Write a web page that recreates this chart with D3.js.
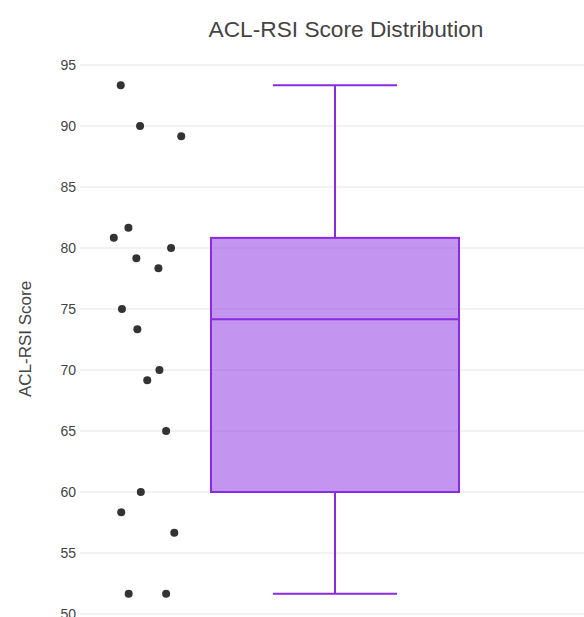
<!DOCTYPE html>
<html>
<head>
<meta charset="utf-8">
<script src="https://cdn.jsdelivr.net/npm/d3@7"></script>
<style>
    body { margin: 0; background: #fff; }
    text { font-family: "Liberation Sans", Arial, sans-serif; fill: #444; }
</style>
</head>
<body>
<div id="chart"></div>
<script>
// Data
const scores = [93.33, 90.0, 89.17, 81.67, 80.83, 80.0, 79.17, 78.33, 75.0, 73.33,
                70.0, 69.17, 65.0, 60.0, 58.33, 56.67, 51.67, 51.67];
// horizontal jitter of each point (box units, box centre = 0)
const jitter = [-0.864, -0.786, -0.620, -0.833, -0.892, -0.661, -0.801, -0.712, -0.859, -0.797,
                -0.708, -0.757, -0.681, -0.783, -0.862, -0.648, -0.832, -0.681];
const yTicks = [50, 55, 60, 65, 70, 75, 80, 85, 90, 95];

const width = 584, height = 617;
const margin = { top: 65, left: 80 };

const svg = d3.select("#chart")
    .append("svg")
    .attr("width", width)
    .attr("height", height);

const y = d3.scaleLinear()
    .domain([50, 95])
    .range([614, margin.top]);

const x = d3.scaleLinear()
    .domain([-1, 1])
    .range([335 - 248, 335 + 248]);

// Gridlines
svg.append("g")
    .selectAll("line")
    .data(yTicks)
    .enter()
    .append("line")
    .attr("x1", margin.left)
    .attr("x2", width)
    .attr("y1", d => y(d))
    .attr("y2", d => y(d))
    .attr("stroke", "#e5e5e5")
    .attr("stroke-width", 1);

// Ticks
const yAxis = svg.append("g")
    .attr("transform", `translate(${margin.left},0)`)
    .call(d3.axisLeft(y).tickValues(yTicks).tickSize(0).tickPadding(4));
yAxis.select(".domain").remove();
yAxis.selectAll("text")
    .attr("font-size", 14)
    .style("fill", "#444")
    .style("font-family", "'Liberation Sans', Arial, sans-serif");

// Box stats (median of halves, like plotly)
const sorted = scores.slice().sort(d3.ascending);
const half = Math.floor(sorted.length / 2);
const q1 = d3.median(sorted.slice(0, half));
const med = d3.median(sorted);
const q3 = d3.median(sorted.slice(sorted.length - half));
const lo = d3.min(sorted), hi = d3.max(sorted);

const boxColor = "#8a2be2";

// whiskers
svg.append("line")
    .attr("x1", x(0)).attr("x2", x(0))
    .attr("y1", y(hi)).attr("y2", y(q3))
    .attr("stroke", boxColor).attr("stroke-width", 2);
svg.append("line")
    .attr("x1", x(0)).attr("x2", x(0))
    .attr("y1", y(q1)).attr("y2", y(lo))
    .attr("stroke", boxColor).attr("stroke-width", 2);
[lo, hi].forEach(v => {
    svg.append("line")
        .attr("x1", x(-0.25)).attr("x2", x(0.25))
        .attr("y1", y(v)).attr("y2", y(v))
        .attr("stroke", boxColor).attr("stroke-width", 2);
});

// box
svg.append("rect")
    .attr("x", x(-0.5))
    .attr("y", y(q3))
    .attr("width", x(0.5) - x(-0.5))
    .attr("height", y(q1) - y(q3))
    .attr("fill", boxColor)
    .attr("fill-opacity", 0.5)
    .attr("stroke", boxColor)
    .attr("stroke-width", 2);

svg.append("line")
    .attr("x1", x(-0.5)).attr("x2", x(0.5))
    .attr("y1", y(med)).attr("y2", y(med))
    .attr("stroke", boxColor).attr("stroke-width", 2);

// points
svg.selectAll("circle")
    .data(scores)
    .enter()
    .append("circle")
    .attr("cx", (d, i) => x(jitter[i]))
    .attr("cy", d => y(d))
    .attr("r", 4)
    .attr("fill", "#333");

// Title
svg.append("text")
    .attr("x", 346)
    .attr("y", 37)
    .attr("text-anchor", "middle")
    .attr("font-size", 22.7)
    .text("ACL-RSI Score Distribution");

// Y label
svg.append("text")
    .attr("transform", `translate(31, 339) rotate(-90)`)
    .attr("text-anchor", "middle")
    .attr("font-size", 17)
    .text("ACL-RSI Score");
</script>
</body>
</html>
